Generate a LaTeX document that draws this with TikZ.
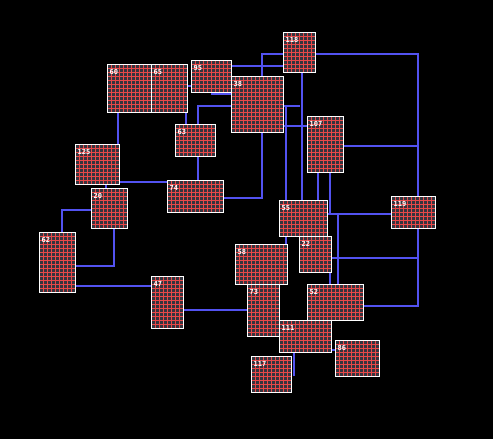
\documentclass[tikz,border=0pt]{standalone}
\usepackage{fontspec}
\newfontfamily\labfont{DejaVu Sans Mono}
\pgfdeclarelayer{back}
\pgfdeclarelayer{wires}
\pgfsetlayers{back,wires,main}
\definecolor{wireblue}{RGB}{82,82,240}
\definecolor{gridred}{RGB}{232,72,72}
\definecolor{cellbg}{RGB}{52,52,62}
\tikzset{
  cellbox/.style={rectangle, fill=cellbg, inner sep=0pt, outer sep=0pt},
  gridline/.style={draw=gridred, line width=1pt},
  boxedge/.style={draw=white, line width=1pt},
  lab/.style={font=\labfont\bfseries\fontsize{7}{7}\selectfont, text=white, anchor=north west, inner sep=0pt},
  wire/.style={draw=wireblue, line width=2pt},
}
\newcommand\gbox[6]{%
  \node[cellbox, minimum width={(#4-#2)*1pt}, minimum height={(#5-#3)*1pt}] (#1) at ({(#2+#4)/2},{(#3+#5)/2}) {};
  \pgfmathtruncatemacro\gnx{(#4-#2)/4-1}%
  \pgfmathtruncatemacro\gny{(#5-#3)/4-1}%
  \foreach \k in {1,...,\gnx}{\draw[gridline] ({#2+4*\k},#3) -- ({#2+4*\k},#5);}
  \foreach \k in {1,...,\gny}{\draw[gridline] (#2,{#3+4*\k}) -- (#4,{#3+4*\k});}
  \draw[boxedge] (#1.north west) rectangle (#1.south east);
  \node[lab] (#1-label) at ([xshift=2pt,yshift=-4.5pt]#1.north west) {#6};
}
\begin{document}
\begin{tikzpicture}[x=1pt,y=-1pt]
\useasboundingbox (0,0) rectangle (493,439);
\begin{pgfonlayer}{back}
\fill[black] (0,0) rectangle (493,439);
\end{pgfonlayer}

\gbox{n60}{107.5}{64.5}{151.5}{112.5}{60}
\gbox{n65}{151.5}{64.5}{187.5}{112.5}{65}
\gbox{n95}{191.5}{60.5}{231.5}{92.5}{95}
\gbox{n38}{231.5}{76.5}{283.5}{132.5}{38}
\gbox{n118}{283.5}{32.5}{315.5}{72.5}{118}
\gbox{n107}{307.5}{116.5}{343.5}{172.5}{107}
\gbox{n63}{175.5}{124.5}{215.5}{156.5}{63}
\gbox{n125}{75.5}{144.5}{119.5}{184.5}{125}
\gbox{n20}{91.5}{188.5}{127.5}{228.5}{20}
\gbox{n74}{167.5}{180.5}{223.5}{212.5}{74}
\gbox{n62}{39.5}{232.5}{75.5}{292.5}{62}
\gbox{n47}{151.5}{276.5}{183.5}{328.5}{47}
\gbox{n55}{279.5}{200.5}{327.5}{236.5}{55}
\gbox{n119}{391.5}{196.5}{435.5}{228.5}{119}
\gbox{n58}{235.5}{244.5}{287.5}{284.5}{58}
\gbox{n22}{299.5}{236.5}{331.5}{272.5}{22}
\gbox{n73}{247.5}{284.5}{279.5}{336.5}{73}
\gbox{n52}{307.5}{284.5}{363.5}{320.5}{52}
\gbox{n111}{279.5}{320.5}{331.5}{352.5}{111}
\gbox{n117}{251.5}{356.5}{291.5}{392.5}{117}
\gbox{n86}{335.5}{340.5}{379.5}{376.5}{86}

\begin{pgfonlayer}{wires}
\draw[wire] (n74.east |- 0,198) -- (262,198) -- (262,54) -- (n118.west |- 0,54);
\draw[wire] (n118.east |- 0,54) -- (418,54) -- (n119.north -| 418,0);
\draw[wire] (n119.south -| 418,0) -- (418,306) -- (n52.east |- 0,306);
\draw[wire] (n107.east |- 0,146) -- (418,146);
\draw[wire] (n22.east |- 0,258) -- (418,258);
\draw[wire] (n60.south -| 118,0) -- (n125.north -| 118,0);
\draw[wire] (n65.east |- 0,86) -- (n95.west |- 0,86);
\draw[wire] (n65.south -| 186,0) -- (n63.north -| 186,0);
\draw[wire] (n63.north -| 198,0) -- (198,106) -- (n38.west |- 0,106);
\draw[wire] (n38.west |- 0,94) -- (212,94) -- (n95.south -| 212,0);
\draw[wire] (n95.east |- 0,66) -- (n118.west |- 0,66);
\draw[wire] (n118.south -| 302,0) -- (n55.north -| 302,0);
\draw[wire] (n38.east |- 0,106) -- (300,106);
\draw[wire] (286,105) -- (n55.north -| 286,0);
\draw[wire] (n38.east |- 0,126) -- (n107.west |- 0,126);
\draw[wire] (n107.south -| 318,0) -- (n55.north -| 318,0);
\draw[wire] (n107.south -| 330,0) -- (330,214);
\draw[wire] (n55.east |- 0,214) -- (n119.west |- 0,214);
\draw[wire] (338,213) -- (n52.north -| 338,0);
\draw[wire] (n22.south -| 330,0) -- (n52.north -| 330,0);
\draw[wire] (n55.south -| 286,0) -- (n58.north -| 286,0);
\draw[wire] (n63.south -| 198,0) -- (n74.north -| 198,0);
\draw[wire] (n125.east |- 0,182) -- (n74.west |- 0,182);
\draw[wire] (n125.south -| 106,0) -- (n20.north -| 106,0);
\draw[wire] (n20.west |- 0,210) -- (62,210) -- (n62.north -| 62,0);
\draw[wire] (n20.south -| 114,0) -- (114,266) -- (n62.east |- 0,266);
\draw[wire] (n62.east |- 0,286) -- (n47.west |- 0,286);
\draw[wire] (n47.east |- 0,310) -- (n73.west |- 0,310);
\draw[wire] (n111.south -| 294,0) -- (294,376);
\draw[wire] (n111.east |- 0,350) -- (n86.west |- 0,350);
\end{pgfonlayer}
\end{tikzpicture}
\end{document}
